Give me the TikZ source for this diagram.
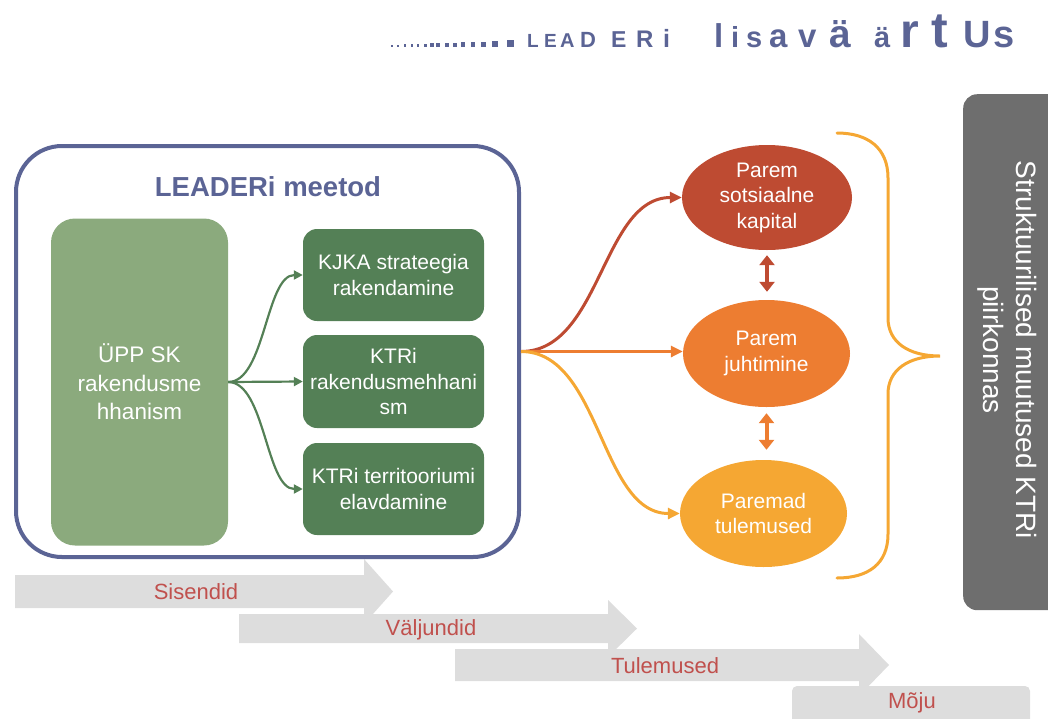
\documentclass[tikz,border=0pt]{standalone}
\usepackage{fontspec}
\setmainfont{Liberation Sans}
\usetikzlibrary{shapes.geometric,arrows.meta}
\definecolor{navy}{HTML}{5B6495}
\definecolor{lgreen}{HTML}{8BAA7D}
\definecolor{dgreen}{HTML}{548056}
\definecolor{redc}{HTML}{BE4B32}
\definecolor{orangec}{HTML}{ED7D31}
\definecolor{amber}{HTML}{F5A733}
\definecolor{boxgrey}{HTML}{6E6E6E}
\definecolor{arrgrey}{HTML}{DDDDDD}
\definecolor{txtred}{HTML}{C0504D}
\newcommand\fsz[2]{\fontsize{#1}{#2}\selectfont}
\begin{document}
\begin{tikzpicture}[x=1pt,y=-1pt,
  tletter/.style={anchor=base west, inner sep=0pt, text=navy, font=\bfseries\fontsize{#1}{#1}\selectfont},
  dbox/.style={fill=dgreen, rounded corners=14pt, minimum width=181pt, inner sep=0pt, text=white, align=center, font=\fsz{21}{25.5}},
  ell/.style={ellipse, minimum width=170pt, minimum height=105pt, inner sep=0pt, text=white, align=center, font=\fsz{21}{25.5}},
  garr/.style={draw=dgreen, line width=2.2pt, -{Triangle[length=9pt,width=9pt]}},
  oarr/.style={line width=3pt, -{Triangle[length=12pt,width=11pt]}},
  dbl/.style={line width=4pt, {Triangle[length=10pt,width=15pt]}-{Triangle[length=10pt,width=15pt]}},
  arrtxt/.style={text=txtred, inner sep=0pt, font=\fsz{22}{26}}
]
\useasboundingbox (0,0) rectangle (1048,718);

% title
\foreach \x/\s in {392/1.5,398/2,405/2.2,412/2.5,418/2.7,425/3,432/3.2,438/3.5,447/3.8,455/4,463/4.3,473/4.6,483/5,495/5.8,510/7}
  \fill[navy] (\x-\s/2,46.5) rectangle ++(\s,-\s);
\foreach \x/\s/\c [count=\i] in {527/19/L,544/19/E,560/20/A,580/22/D,611/23/E,636/24/R,663/25/i,714/33/l,731/29/i,746/29/s,769/33/a,798/33/v,829/39/ä,874/29/ä,900/48/r,931/50/t,963/38/U,993/38/s}
  \node[tletter=\s] (t\i) at (\x,47) {\c};

% process arrows at bottom
\fill[arrgrey] (15,575) -- (364,575) -- (364,559) -- (393,591.5) -- (364,624) -- (364,608) -- (15,608) -- cycle;
\fill[arrgrey] (239,614) -- (608,614) -- (608,600) -- (637,628.5) -- (608,657) -- (608,643) -- (239,643) -- cycle;
\fill[arrgrey] (455,649) -- (859,649) -- (859,634) -- (889,665) -- (859,696) -- (859,681) -- (455,681) -- cycle;
\fill[arrgrey, rounded corners=5pt] (792,686) rectangle (1030,740);
\node[arrtxt] (sis) at (196,592) {Sisendid};
\node[arrtxt] (val) at (431,630) {Väljundid};
\node[arrtxt] (tul) at (665,666) {Tulemused};
\node[arrtxt] (moj) at (912,703) {Mõju};

% LEADER method box
\node[draw=navy, line width=4pt, rounded corners=46pt, minimum width=503pt, minimum height=411pt, inner sep=0pt] (meet) at (267.5,351.5) {};
\node[text=navy, font=\bfseries\fsz{27.5}{32}, inner sep=0pt] (mtitle) at (268,187) {LEADERi meetod};
\node[fill=lgreen, rounded corners=24pt, minimum width=177pt, minimum height=327pt, inner sep=0pt, text=white, align=center, font=\fsz{22.5}{28.5}] (upp) at (139.5,382) {ÜPP SK\\rakendusme\\hhanism};
\node[dbox, minimum height=92pt] (k1) at (393.5,275) {KJKA strateegia\\rakendamine};
\node[dbox, minimum height=93pt] (k2) at (393.5,381.5) {KTRi\\rakendusmehhani\\sm};
\node[dbox, minimum height=92pt] (k3) at (393.5,489) {KTRi territooriumi\\elavdamine};
\draw[garr] (upp.east) .. controls +(37,0) and +(-37,0) .. (k1.west);
\draw[garr] (upp.east) -- (k2.west);
\draw[garr] (upp.east) .. controls +(37,0) and +(-37,0) .. (k3.west);

% ellipses
\node[ell, fill=redc] (e1) at (767,197.5) {Parem\\sotsiaalne\\kapital};
\node[ell, fill=orangec, minimum width=167pt, minimum height=107pt] (e2) at (766.5,353.5) {Parem\\juhtimine};
\node[ell, fill=amber, minimum width=167pt, minimum height=107pt] (e3) at (763.5,513.5) {Paremad\\tulemused};
\draw[oarr, draw=redc] (meet.east) .. controls +(80,0) and +(-80,0) .. (e1.west);
\draw[oarr, draw=orangec] (meet.east) -- (meet.east -| e2.west);
\draw[oarr, draw=amber] (meet.east) .. controls +(80,0) and +(-80,0) .. (e3.west);
\draw[dbl, draw=redc, shorten <=5pt, shorten >=8pt] (e1.south) -- (e1.south |- e2.north);
\draw[dbl, draw=orangec, shorten <=6pt, shorten >=10pt] (e2.south) -- (e2.south |- e3.north);

% brace
\draw[amber, line width=3pt, line cap=round] (837,133) .. controls (868,133) and (888,148) .. (888,178) -- (888,318) .. controls (888,342) and (908,356) .. (940,356) .. controls (908,356) and (888,370) .. (888,394) -- (888,534) .. controls (888,564) and (868,578) .. (837,578);

% grey box
\node[fill=boxgrey, rounded corners=14pt, minimum width=120pt, minimum height=516pt, inner sep=0pt, anchor=north west] (gbox) at (963,94) {};
\node[rotate=-90, align=center, text=white, font=\fsz{28}{32.5}, inner sep=0pt] (gtxt) at (1007,350) {Struktuurilised muutused KTRi\\piirkonnas};
\end{tikzpicture}
\end{document}
